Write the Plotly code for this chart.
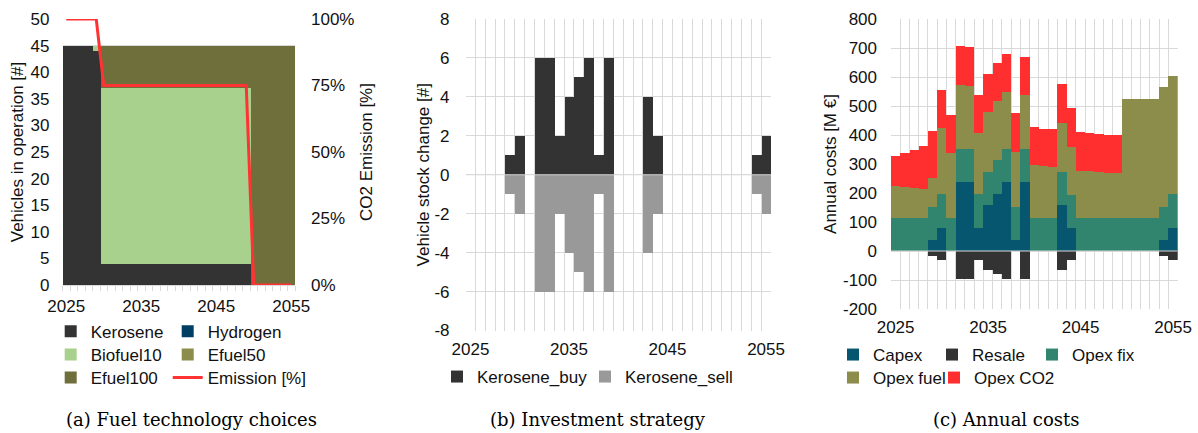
import plotly.graph_objects as go

# ---------------- data ----------------
years = [2025, 2026, 2027, 2028, 2029, 2030, 2031, 2032, 2033, 2034,
         2035, 2036, 2037, 2038, 2039, 2040, 2041, 2042, 2043, 2044,
         2045, 2046, 2047, 2048, 2049, 2050, 2051, 2052, 2053, 2054, 2055]
tick_years = [2025, 2035, 2045, 2055]

# (a) Fuel technology choices – vehicles in operation [#]
kerosene = [45, 45, 45, 45, 44, 4, 4, 4, 4, 4, 4, 4, 4, 4, 4, 4, 4, 4, 4, 4,
            4, 4, 4, 4, 4, 0, 0, 0, 0, 0, 0]
hydrogen = [0, 0, 0, 0, 0, 0, 0, 0, 0, 0, 0, 0, 0, 0, 0, 0, 0, 0, 0, 0,
            0, 0, 0, 0, 0, 0, 0, 0, 0, 0, 0]
biofuel10 = [0, 0, 0, 0, 1, 33, 33, 33, 33, 33, 33, 33, 33, 33, 33, 33, 33, 33, 33, 33,
             33, 33, 33, 33, 33, 0, 0, 0, 0, 0, 0]
efuel50 = [0, 0, 0, 0, 0, 0, 0, 0, 0, 0, 0, 0, 0, 0, 0, 0, 0, 0, 0, 0,
           0, 0, 0, 0, 0, 0, 0, 0, 0, 0, 0]
efuel100 = [0, 0, 0, 0, 0, 8, 8, 8, 8, 8, 8, 8, 8, 8, 8, 8, 8, 8, 8, 8,
            8, 8, 8, 8, 8, 45, 45, 45, 45, 45, 45]
emission = [1.0, 1.0, 1.0, 1.0, 1.0, 0.75, 0.75, 0.75, 0.75, 0.75, 0.75, 0.75, 0.75, 0.75,
            0.75, 0.75, 0.75, 0.75, 0.75, 0.75, 0.75, 0.75, 0.75, 0.75, 0.75,
            0.0, 0.0, 0.0, 0.0, 0.0, 0.0]
a_ticks = [0, 5, 10, 15, 20, 25, 30, 35, 40, 45, 50]
a2_ticks = [0, 0.25, 0.5, 0.75, 1.0]
a2_labels = ["0%", "25%", "50%", "75%", "100%"]

# (b) Investment strategy – vehicle stock change [#]
kerosene_buy = [0, 0, 0, 0, 1, 2, 0, 6, 6, 2, 4, 5, 6, 1, 6, 0, 0, 0, 4, 2,
                0, 0, 0, 0, 0, 0, 0, 0, 0, 1, 2]
kerosene_sell = [0, 0, 0, 0, -1, -2, 0, -6, -6, -2, -4, -5, -6, -1, -6, 0, 0, 0, -4, -2,
                 0, 0, 0, 0, 0, 0, 0, 0, 0, -1, -2]
b_ticks = [-8, -6, -4, -2, 0, 2, 4, 6, 8]
b_labels = ["-8", "-6", "-4", "-2", "0", "2", "4", "6", "8"]

# (c) Annual costs [M EUR]
capex = [0, 0, 0, 0, 39, 79, 0, 238, 238, 79, 159, 198, 238, 39, 238, 0, 0, 0, 159, 79,
         0, 0, 0, 0, 0, 0, 0, 0, 0, 39, 79]
resale = [0, 0, 0, 0, -16, -32, 0, -96, -96, -32, -64, -80, -96, 0, -96, 0, 0, 0, -64, -32,
          0, 0, 0, 0, 0, 0, 0, 0, 0, -16, -32]
opex_fix = [114, 114, 114, 114, 113, 116, 114, 115, 115, 116, 114, 116, 115, 113, 115,
            114, 114, 114, 114, 115, 114, 114, 114, 114, 114, 114, 114, 114, 114, 113, 116]
opex_fuel = [109, 106, 104, 100, 100, 228, 223, 220, 215, 211, 208, 204, 197, 191, 185,
             181, 178, 175, 170, 166, 163, 161, 159, 156, 154, 410, 410, 410, 410, 412, 410]
opex_co2 = [104, 118, 132, 147, 161, 132, 131, 133, 134, 131, 131, 130, 131, 133, 132,
            131, 130, 130, 132, 133, 132, 131, 131, 131, 131, 0, 0, 0, 0, 0, 0]
c_ticks = [-200, -100, 0, 100, 200, 300, 400, 500, 600, 700, 800]
c_labels = ["-200", "-100", "0", "100", "200", "300", "400", "500", "600", "700", "800"]

captions = ["(a) Fuel technology choices", "(b) Investment strategy", "(c) Annual costs"]

# ---------------- styling ----------------
W, H = 1198, 433
FONT = "Liberation Sans, Arial, sans-serif"
SERIF = "DejaVu Serif, serif"
TXT = "#111111"
GRID = "#d9d9d9"
FS = 17


def xdom(l, r):
    return [l / W, r / W]


def ydom(t, b):
    return [1 - b / H, 1 - t / H]


fig = go.Figure()

# ---- panel (a)
for name, vals, col, leg, lw in [
    ("Kerosene", kerosene, "#333333", "legend", 72),
    ("Hydrogen", hydrogen, "#003f63", "legend", 120),
    ("Biofuel10", biofuel10, "#a9d18e", "legend2", 72),
    ("Efuel50", efuel50, "#8c8c4b", "legend2", 120),
    ("Efuel100", efuel100, "#6f6f3b", "legend3", 72),
]:
    fig.add_trace(go.Bar(x=years, y=vals, name=name, width=1, legendwidth=lw,
                         marker=dict(color=col, line=dict(width=0)),
                         xaxis="x", yaxis="y", legend=leg))
fig.add_trace(go.Scatter(x=years, y=emission, name="Emission [%]", mode="lines",
                         line=dict(color="#ff3333", width=3), legendwidth=130,
                         xaxis="x", yaxis="y4", legend="legend3"))

# ---- panel (b)
fig.add_trace(go.Bar(x=years, y=kerosene_buy, name="Kerosene_buy", width=1, legendwidth=103,
                     marker=dict(color="#333333", line=dict(width=0)),
                     xaxis="x2", yaxis="y2", legend="legend4"))
fig.add_trace(go.Bar(x=years, y=kerosene_sell, name="Kerosene_sell", width=1, legendwidth=130,
                     marker=dict(color="#999999", line=dict(width=0)),
                     xaxis="x2", yaxis="y2", legend="legend4"))

# ---- panel (c)
for name, vals, col, leg, lw in [
    ("Capex", capex, "#05566e", "legend5", 54),
    ("Resale", resale, "#333333", "legend5", 55),
    ("Opex fix", opex_fix, "#31846e", "legend5", 90),
    ("Opex fuel", opex_fuel, "#8c8c4b", "legend6", 56),
    ("Opex CO2", opex_co2, "#ff2f2f", "legend6", 100),
]:
    fig.add_trace(go.Bar(x=years, y=vals, name=name, width=1, legendwidth=lw,
                         marker=dict(color=col, line=dict(width=0)),
                         xaxis="x3", yaxis="y3", legend=leg))

tickfont = dict(size=FS, family=FONT, color=TXT)
titlefont = dict(size=FS, family=FONT, color=TXT)

xcommon = dict(range=[2024.5, 2055.5], tickmode="array", tickvals=tick_years,
               ticktext=[str(t) for t in tick_years], showgrid=False, zeroline=False,
               ticks="", tickfont=tickfont, ticklabelstandoff=6, fixedrange=True,
               automargin=False)

fig.update_layout(
    width=W, height=H, template="none",
    margin=dict(l=0, r=0, t=0, b=0, autoexpand=False),
    paper_bgcolor="white", plot_bgcolor="white",
    barmode="relative", bargap=0, showlegend=True,
    font=dict(family=FONT, size=FS, color=TXT),
    xaxis=dict(domain=xdom(62.5, 295), anchor="y", showline=True, linecolor=GRID,
               linewidth=1,
               minor=dict(ticks="outside", ticklen=5, tickcolor=GRID, tickwidth=1,
                          tickmode="linear", tick0=2024.5, dtick=1, showgrid=False),
               **xcommon),
    yaxis=dict(domain=ydom(19, 285), anchor="x", range=[0, 50], tickmode="array",
               tickvals=a_ticks, ticktext=[str(t) for t in a_ticks],
               showgrid=True, gridcolor=GRID, gridwidth=1, zeroline=False, ticks="",
               tickfont=tickfont, ticklabelstandoff=12, automargin=False,
               title=dict(text="Vehicles in operation [#]", font=titlefont, standoff=2)),
    yaxis4=dict(overlaying="y", anchor="x", side="right", range=[0, 1],
                tickmode="array", tickvals=a2_ticks, ticktext=a2_labels,
                showgrid=False, zeroline=False, ticks="", tickfont=tickfont,
                ticklabelstandoff=15, automargin=False,
                title=dict(text="CO2 Emission [%]", font=titlefont, standoff=6)),
    xaxis2=dict(domain=xdom(465.5, 771), anchor="y2",
                minor=dict(tickmode="linear", tick0=2024.5, dtick=1, showgrid=True,
                           gridcolor=GRID, gridwidth=1, ticks=""),
                **xcommon),
    yaxis2=dict(domain=ydom(19, 330.5), anchor="x2", range=[-8, 8], tickmode="array",
                tickvals=b_ticks, ticktext=b_labels,
                showgrid=True, gridcolor=GRID, gridwidth=1, zeroline=False, ticks="",
                tickfont=tickfont, ticklabelstandoff=15, automargin=False,
                title=dict(text="Vehicle stock change [#]", font=titlefont, standoff=0)),
    xaxis3=dict(domain=xdom(891, 1177.7), anchor="y3",
                minor=dict(tickmode="linear", tick0=2024.5, dtick=1, showgrid=True,
                           gridcolor=GRID, gridwidth=1, ticks=""),
                **xcommon),
    yaxis3=dict(domain=ydom(19, 309), anchor="x3", range=[-200, 800], tickmode="array",
                tickvals=c_ticks, ticktext=c_labels,
                showgrid=True, gridcolor=GRID, gridwidth=1, zeroline=False, ticks="",
                tickfont=tickfont, ticklabelstandoff=13, automargin=False,
                title=dict(text="Annual costs [M €]", font=titlefont, standoff=2)),
)

legcommon = dict(orientation="h", xref="paper", yref="paper",
                 xanchor="left", yanchor="middle", bgcolor="rgba(0,0,0,0)",
                 borderwidth=0, font=dict(size=FS, family=FONT, color=TXT),
                 traceorder="normal", entrywidthmode="pixels", itemclick=False,
                 itemdoubleclick=False)

fig.update_layout(
    legend=dict(x=(92.7 - 42) / W, y=1 - 331.7 / H, **legcommon),
    legend2=dict(x=(92.7 - 42) / W, y=1 - 355 / H, **legcommon),
    legend3=dict(x=(92.7 - 42) / W, y=1 - 378 / H, **legcommon),
    legend4=dict(x=(479 - 42) / W, y=1 - 377 / H, **legcommon),
    legend5=dict(x=(875 - 42) / W, y=1 - 355 / H, **legcommon),
    legend6=dict(x=(875 - 42) / W, y=1 - 378 / H, **legcommon),
)

# zero lines drawn over the bars (panels b and c)
for xr, yr in [("x2", "y2"), ("x3", "y3")]:
    fig.add_shape(type="line", xref=xr, yref=yr, x0=2024.5, x1=2055.5, y0=0, y1=0,
                  line=dict(color=GRID, width=1), layer="above")

for cap, cx in zip(captions, [191.7, 598, 1005.5]):
    fig.add_annotation(text=cap, x=cx / W, y=1 - 419.5 / H, xref="paper", yref="paper",
                       xanchor="center", yanchor="middle", showarrow=False,
                       font=dict(family=SERIF, size=18, color="#000000"))

fig.write_html("out.html")
